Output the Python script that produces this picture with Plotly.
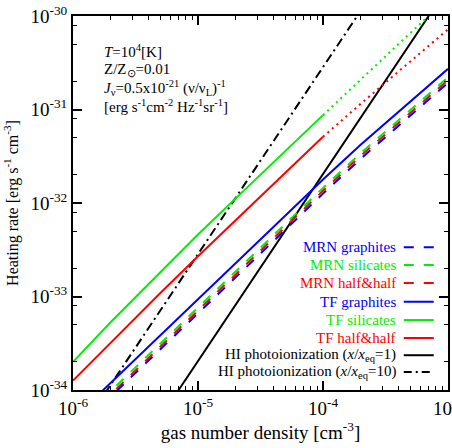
import plotly.graph_objects as go

# ---------------- data ----------------
n_lo = [1e-6, 2e-6, 5e-6, 1e-5, 2e-5, 5e-5, 1e-4]
n_hi = [1e-4, 2e-4, 5e-4, 1e-3]
n_full = [1e-6, 2e-6, 5e-6, 1e-5, 2e-5, 5e-5, 1e-4, 2e-4, 5e-4, 1e-3]
n_photo = [1e-6, 1e-5, 1e-4, 1e-3]

tf_sil_lo = [2.0e-34, 5.3e-34, 1.82e-33, 4.6e-33, 1.12e-32, 3.6e-32, 8.7e-32]
tf_sil_hi = [8.7e-32, 2.1e-31, 6.6e-31, 1.55e-30]
tf_half_lo = [1.26e-34, 3.2e-34, 1.09e-33, 2.7e-33, 6.5e-33, 2.1e-32, 5.1e-32]
tf_half_hi = [5.1e-32, 1.15e-31, 3.27e-31, 7.2e-31]
tf_gra = [4.9e-35, 1.19e-34, 3.85e-34, 9.3e-34, 2.26e-33, 7.2e-33, 1.78e-32, 4.2e-32, 1.22e-31, 2.72e-31]
mrn_gra = [3.5e-35, 8.4e-35, 2.73e-34, 6.6e-34, 1.6e-33, 5.1e-33, 1.26e-32, 2.97e-32, 8.6e-32, 1.93e-31]
mrn_half = [3.7e-35, 9.0e-35, 2.92e-34, 7.1e-34, 1.72e-33, 5.5e-33, 1.35e-32, 3.19e-32, 9.3e-32, 2.06e-31]
mrn_sil = [4.0e-35, 9.7e-35, 3.13e-34, 7.6e-34, 1.84e-33, 5.9e-33, 1.45e-32, 3.41e-32, 9.9e-32, 2.21e-31]
hi_x1 = [2.04e-36, 2.04e-34, 2.04e-32, 2.04e-30]
hi_x10 = [2.84e-35, 2.84e-33, 2.84e-31, 2.84e-29]

x_major = [1e-6, 1e-5, 1e-4, 1e-3]
x_major_text = ["10<sup>-6</sup>", "10<sup>-5</sup>", "10<sup>-4</sup>", "10<sup>-3</sup>"]
y_major = [1e-34, 1e-33, 1e-32, 1e-31, 1e-30]
y_major_text = ["10<sup>-34</sup>", "10<sup>-33</sup>", "10<sup>-32</sup>", "10<sup>-31</sup>", "10<sup>-30</sup>"]
x_minor = [m * d for d in [1e-6, 1e-5, 1e-4] for m in range(2, 10)]
y_minor = [m * d for d in [1e-34, 1e-33, 1e-32, 1e-31] for m in (2, 5, 8)]

legend_labels = ["MRN graphites", "MRN silicates", "MRN half&amp;half",
                 "TF graphites", "TF silicates", "TF half&amp;half",
                 "HI photoionization (<i>x</i>/<i>x</i><sub>eq</sub>=1)",
                 "HI photoionization (<i>x</i>/<i>x</i><sub>eq</sub>=10)"]

BLUE, GREEN, RED, BLACK = "#0000ff", "#00ee00", "#ff0000", "#000000"
FONT = "Liberation Serif"
LW = 2
DASH = "10px,10px"
DOT = "2px,4px"
DASHDOT = "9px,4px,2px,4px"

fig = go.Figure()

def add(x, y, color, dash):
    fig.add_trace(go.Scatter(x=x, y=y, mode="lines", showlegend=False,
                             hoverinfo="skip",
                             line=dict(color=color, width=LW, dash=dash)))

add(n_photo, hi_x10, BLACK, DASHDOT)
add(n_photo, hi_x1, BLACK, "solid")
add(n_lo, tf_sil_lo, GREEN, "solid")
add(n_hi, tf_sil_hi, GREEN, DOT)
add(n_lo, tf_half_lo, RED, "solid")
add(n_hi, tf_half_hi, RED, DOT)
add(n_full, tf_gra, BLUE, "solid")
add(n_full, mrn_sil, GREEN, DASH)
add(n_full, mrn_half, RED, DASH)
add(n_full, mrn_gra, BLUE, DASH)

# ---------------- legend (text right, sample at right) ----------------
leg_colors = [BLUE, GREEN, RED, BLUE, GREEN, RED, BLACK, BLACK]
leg_dash = ["dash", "dash", "dash", "solid", "solid", "solid", "solid", "dashdot"]
leg_y = [0.382, 0.334, 0.286, 0.236, 0.187, 0.139, 0.093, 0.048]
dash_map = {"dash": DASH, "solid": "solid", "dashdot": "8px,4px,2px,4px"}
for lab, c, d, yy in zip(legend_labels, leg_colors, leg_dash, leg_y):
    fig.add_annotation(x=0.867, y=yy, xref="paper", yref="paper", text=lab,
                       showarrow=False, xanchor="right", yanchor="middle",
                       font=dict(family=FONT, size=15, color=c))
    fig.add_shape(type="line", xref="paper", yref="paper", x0=0.882, x1=0.962,
                  y0=yy, y1=yy, line=dict(color=c, width=LW, dash=dash_map[d]))

# ---------------- info text ----------------
info = ["<i>T</i>=10<sup>4</sup>[K]",
        "Z/Z<sub>⊙</sub>=0.01",
        "<i>J</i><sub>ν</sub>=0.5x10<sup>-21</sup> (ν/ν<sub>L</sub>)<sup>-1</sup>",
        "[erg s<sup>-1</sup>cm<sup>-2</sup> Hz<sup>-1</sup>sr<sup>-1</sup>]"]
info_y = [0.906, 0.856, 0.808, 0.760]
for t, yy in zip(info, info_y):
    fig.add_annotation(x=0.077, y=yy, xref="paper", yref="paper", text=t,
                       showarrow=False, xanchor="left", yanchor="middle",
                       font=dict(family=FONT, size=15, color="black"))

axis_common = dict(showline=True, linecolor="black", linewidth=2, mirror="ticks",
                   ticks="inside", ticklen=9, tickwidth=1.5, tickcolor="black",
                   showgrid=False, zeroline=False, ticklabeloverflow="allow",
                   tickfont=dict(family=FONT, size=19, color="black"))

fig.update_xaxes(type="log", range=[-6, -3], tickmode="array",
                 tickvals=x_major, ticktext=x_major_text,
                 minor=dict(tickmode="array", tickvals=x_minor, ticks="inside",
                            ticklen=4, tickwidth=1.2, tickcolor="black", showgrid=False),
                 title=dict(text="gas number density [cm<sup>-3</sup>]",
                            font=dict(family=FONT, size=19, color="black"), standoff=6),
                 **axis_common)
fig.update_yaxes(type="log", range=[-34, -30], tickmode="array",
                 tickvals=y_major, ticktext=y_major_text,
                 minor=dict(tickmode="array", tickvals=y_minor, ticks="inside",
                            ticklen=4, tickwidth=1.2, tickcolor="black", showgrid=False),
                 title=dict(text="Heating rate [erg s<sup>-1</sup> cm<sup>-3</sup>]",
                            font=dict(family=FONT, size=16, color="black"), standoff=8),
                 **axis_common)

fig.update_layout(width=452, height=448,
                  margin=dict(l=73, r=4, t=16, b=58, autoexpand=False),
                  paper_bgcolor="white", plot_bgcolor="white",
                  font=dict(family=FONT, color="black"), showlegend=False,
                  hovermode=False)

# remove the page's default body margin so the figure sits at the window's corner
fig.write_html("out.html", config={"displayModeBar": False},
               post_script="document.body.style.margin='0';")
